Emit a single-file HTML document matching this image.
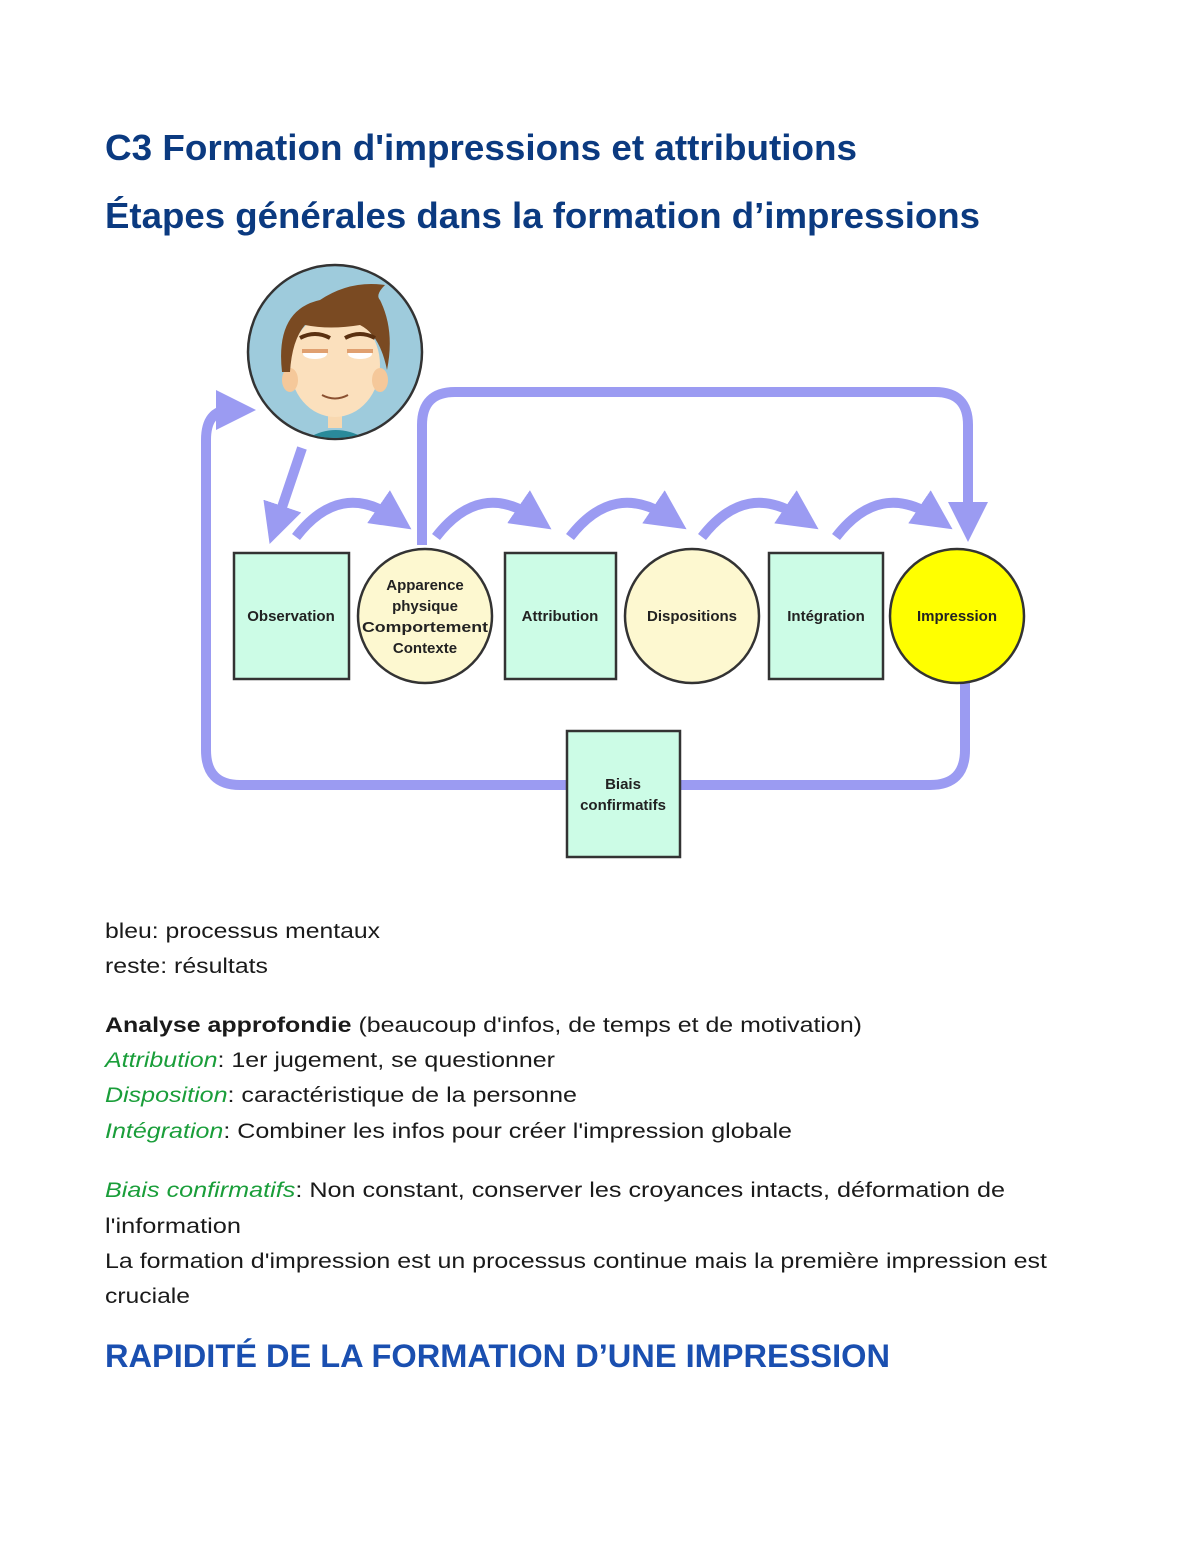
<!DOCTYPE html>
<html><head><meta charset="utf-8"><style>html,body{margin:0;padding:0;background:#fff}svg{display:block}</style></head>
<body>
<svg width="1200" height="1553" viewBox="0 0 1200 1553" xmlns="http://www.w3.org/2000/svg" font-family="Liberation Sans, sans-serif">
<defs>
<marker id="ah" markerWidth="4" markerHeight="4" refX="2" refY="2" orient="auto" markerUnits="strokeWidth"><path d="M0,0 L4,2 L0,4 Z" fill="#9b9bf2"/></marker>
</defs>
<g font-weight="bold" fill="#0b3a80" font-size="36">
<text x="105" y="160" textLength="752" lengthAdjust="spacingAndGlyphs">C3 Formation d'impressions et attributions</text>
<text x="105" y="228" textLength="875" lengthAdjust="spacingAndGlyphs">Étapes générales dans la formation d’impressions</text>
</g>
<!-- connectors -->
<g fill="none" stroke="#9b9bf2" stroke-width="10">
<path d="M567,785 H240 Q206,785 206,750 V440 Q206,410 230,410 H236" marker-end="url(#ah)"/>
<path d="M965,683 V750 Q965,785 930,785 H680"/>
<path d="M422,545 V425 Q422,392 455,392 H935 Q968,392 968,425 V522" marker-end="url(#ah)"/>
<path d="M302,448 L276,525" marker-end="url(#ah)"/>
<path d="M296,537 Q340,480 395,518" marker-end="url(#ah)"/>
<path d="M436,537 Q480,480 535,518" marker-end="url(#ah)"/>
<path d="M570,537 Q614,480 670,518" marker-end="url(#ah)"/>
<path d="M702,537 Q746,480 802,518" marker-end="url(#ah)"/>
<path d="M836,537 Q880,480 936,518" marker-end="url(#ah)"/>
</g>
<!-- face -->
<circle cx="335" cy="352" r="87" fill="#9ecbdc" stroke="#333" stroke-width="2.5"/>
<clipPath id="fc"><circle cx="335" cy="352" r="86"/></clipPath>
<g clip-path="url(#fc)">
<path d="M305,440 Q335,420 368,440 Z" fill="#2a8a9a"/>
<rect x="328" y="410" width="14" height="18" fill="#f8d8b0"/>
<ellipse cx="335" cy="365" rx="45" ry="52" fill="#fbe0bd"/>
<ellipse cx="290" cy="380" rx="8" ry="12" fill="#f5c89a"/>
<ellipse cx="380" cy="380" rx="8" ry="12" fill="#f5c89a"/>
<path d="M282,372 Q275,310 320,300 Q350,280 385,285 Q375,295 380,300 Q395,330 387,370 Q380,335 360,325 Q330,330 305,325 Q292,340 290,372 Z" fill="#7a4a22"/>
<path d="M300,338 Q315,330 330,338" stroke="#5a3010" stroke-width="4" fill="none"/>
<path d="M345,338 Q360,330 375,338" stroke="#5a3010" stroke-width="4" fill="none"/>
<ellipse cx="315" cy="354" rx="12" ry="5" fill="#fff"/>
<ellipse cx="360" cy="354" rx="12" ry="5" fill="#fff"/>
<path d="M302,351 H328 M347,351 H373" stroke="#e0a070" stroke-width="4"/>
<path d="M322,395 Q335,402 348,395" stroke="#8a5030" stroke-width="2" fill="none"/>
</g>
<!-- nodes -->
<g stroke="#333" stroke-width="2.5">
<rect x="234" y="553" width="115" height="126" fill="#ccfce6"/>
<circle cx="425" cy="616" r="67" fill="#fdf8d0"/>
<rect x="505" y="553" width="111" height="126" fill="#ccfce6"/>
<circle cx="692" cy="616" r="67" fill="#fdf8d0"/>
<rect x="769" y="553" width="114" height="126" fill="#ccfce6"/>
<circle cx="957" cy="616" r="67" fill="#ffff00"/>
<rect x="567" y="731" width="113" height="126" fill="#ccfce6"/>
</g>
<g font-weight="bold" font-size="15" fill="#222" text-anchor="middle">
<text x="291" y="621">Observation</text>
<text x="425" y="590">Apparence</text>
<text x="425" y="611">physique</text>
<text x="425" y="632" textLength="126" lengthAdjust="spacingAndGlyphs">Comportement</text>
<text x="425" y="653">Contexte</text>
<text x="560" y="621">Attribution</text>
<text x="692" y="621">Dispositions</text>
<text x="826" y="621">Intégration</text>
<text x="957" y="621">Impression</text>
<text x="623" y="789">Biais</text>
<text x="623" y="810">confirmatifs</text>
</g>
<!-- body -->
<g font-size="21" fill="#1a1a1a">
<text x="105" y="938" textLength="275" lengthAdjust="spacingAndGlyphs">bleu: processus mentaux</text>
<text x="105" y="973" textLength="163" lengthAdjust="spacingAndGlyphs">reste: résultats</text>
<text x="105" y="1032" textLength="757" lengthAdjust="spacingAndGlyphs"><tspan font-weight="bold">Analyse approfondie</tspan> (beaucoup d'infos, de temps et de motivation)</text>
<text x="105" y="1067" textLength="450" lengthAdjust="spacingAndGlyphs"><tspan fill="#1a9e3a" font-style="italic">Attribution</tspan>: 1er jugement, se questionner</text>
<text x="105" y="1102" textLength="472" lengthAdjust="spacingAndGlyphs"><tspan fill="#1a9e3a" font-style="italic">Disposition</tspan>: caractéristique de la personne</text>
<text x="105" y="1138" textLength="687" lengthAdjust="spacingAndGlyphs"><tspan fill="#1a9e3a" font-style="italic">Intégration</tspan>: Combiner les infos pour créer l'impression globale</text>
<text x="105" y="1197" textLength="900" lengthAdjust="spacingAndGlyphs"><tspan fill="#1a9e3a" font-style="italic">Biais confirmatifs</tspan>: Non constant, conserver les croyances intacts, déformation de</text>
<text x="105" y="1233" textLength="136" lengthAdjust="spacingAndGlyphs">l'information</text>
<text x="105" y="1268" textLength="942" lengthAdjust="spacingAndGlyphs">La formation d'impression est un processus continue mais la première impression est</text>
<text x="105" y="1303" textLength="85" lengthAdjust="spacingAndGlyphs">cruciale</text>
</g>
<text x="105" y="1367" font-size="32" font-weight="bold" fill="#1a4fb0" textLength="785" lengthAdjust="spacingAndGlyphs">RAPIDITÉ DE LA FORMATION D’UNE IMPRESSION</text>
</svg>
</body></html>
